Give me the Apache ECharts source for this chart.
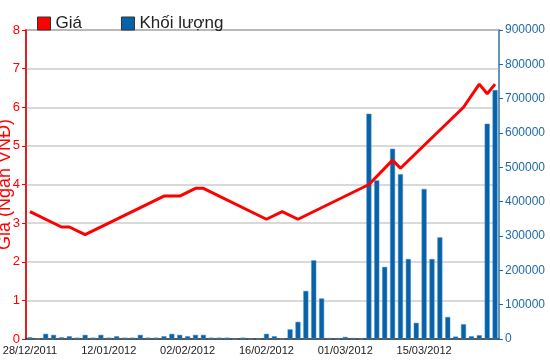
<!DOCTYPE html>
<html>
<head>
<meta charset="utf-8">
<script src="https://cdn.jsdelivr.net/npm/echarts@6/dist/echarts.min.js"></script>
<style>html,body{margin:0;padding:0;background:#fff}#c{width:550px;height:364px}</style>
</head>
<body>
<div id="c"></div>
<script>
var dates = ["28/12/2011","29/12/2011","30/12/2011","03/01/2012","04/01/2012","05/01/2012","06/01/2012","09/01/2012","10/01/2012","11/01/2012",
"12/01/2012","13/01/2012","16/01/2012","17/01/2012","18/01/2012","19/01/2012","20/01/2012","30/01/2012","31/01/2012","01/02/2012",
"02/02/2012","03/02/2012","06/02/2012","07/02/2012","08/02/2012","09/02/2012","10/02/2012","13/02/2012","14/02/2012","15/02/2012",
"16/02/2012","17/02/2012","20/02/2012","21/02/2012","22/02/2012","23/02/2012","24/02/2012","27/02/2012","28/02/2012","29/02/2012",
"01/03/2012","02/03/2012","05/03/2012","06/03/2012","07/03/2012","08/03/2012","09/03/2012","12/03/2012","13/03/2012","14/03/2012",
"15/03/2012","16/03/2012","19/03/2012","20/03/2012","21/03/2012","22/03/2012","23/03/2012","26/03/2012","27/03/2012","28/03/2012"];

var price = [3.3,null,null,null,2.9,2.9,null,2.7,null,null,
null,null,null,null,null,null,null,3.7,null,3.7,
null,3.9,3.9,null,null,null,null,null,null,null,
3.1,null,3.3,null,3.1,null,null,null,null,null,
null,null,null,4.0,null,null,4.63,4.42,null,null,
null,null,null,null,null,6.0,null,6.6,6.35,6.6];

var volume = [5000,0,15000,12000,5000,8000,4000,12000,4000,12000,
4000,8000,4000,4000,12000,4000,4000,8000,15000,12000,
8000,12000,12000,4000,4000,4000,0,4000,0,0,
15000,8000,0,28000,50000,140000,229000,118000,3000,0,
6000,3000,0,656000,462000,210000,554000,480000,233000,47000,
437000,233000,296000,64000,7000,43000,8000,11000,627000,725000];

var priceTicks = [0,1,2,3,4,5,6,7,8];
var volumeTicks = [0,100000,200000,300000,400000,500000,600000,700000,800000,900000];

var chart = echarts.init(document.getElementById('c'), null, {renderer:'canvas'});
var font = 'Liberation Sans, Arial, sans-serif';
chart.setOption({
  animation:false,
  textStyle:{fontFamily:font},
  legend:{
    left:32, top:10, itemWidth:13, itemHeight:13, itemGap:39,
    textStyle:{fontSize:17, color:'#222', fontFamily:font},
    data:[
      {name:'Giá', icon:'rect', itemStyle:{color:'#ff0000', borderColor:'#333', borderWidth:1}},
      {name:'Khối lượng', icon:'rect', itemStyle:{color:'#0862a8', borderColor:'#333', borderWidth:1}}
    ]
  },
  grid:{left:26, right:51, top:30, bottom:25, containLabel:false, outerBoundsMode:'none',
        show:true, borderColor:'#555', borderWidth:1.5},
  xAxis:{
    type:'category', data:dates, boundaryGap:true,
    axisLine:{lineStyle:{color:'#333', width:1.5}},
    axisTick:{interval:9, alignWithLabel:true, length:4, lineStyle:{color:'#333'}},
    axisLabel:{interval:9, fontSize:11, color:'#222', margin:6, fontFamily:font, hideOverlap:false}
  },
  yAxis:[
    {
      type:'value', min:priceTicks[0], max:priceTicks[priceTicks.length-1], interval:1,
      name:'Giá (Ngàn VNĐ)', nameLocation:'middle', nameRotate:90, nameGap:12, nameMoveOverlap:false,
      nameTextStyle:{color:'#ff0000', fontSize:18, fontFamily:font},
      axisLine:{show:true, lineStyle:{color:'#ff0000', width:1.5}},
      axisTick:{show:true, length:4, lineStyle:{color:'#ff0000'}},
      axisLabel:{color:'#ff0000', fontSize:13, margin:6, fontFamily:font},
      splitLine:{show:true, lineStyle:{color:'#cdcdcd', width:1.5}}
    },
    {
      type:'value', min:volumeTicks[0], max:volumeTicks[volumeTicks.length-1], interval:100000,
      position:'right',
      axisLine:{show:true, lineStyle:{color:'#5f9cc9', width:1.5}},
      axisTick:{show:true, length:4, lineStyle:{color:'#1f6aa5'}},
      axisLabel:{color:'#1f6aa5', fontSize:12, margin:6, fontFamily:font,
                 formatter:function(v){return String(v);}},
      splitLine:{show:false}
    }
  ],
  series:[
    {
      name:'Khối lượng', type:'bar', yAxisIndex:1, data:volume, barWidth:5,
      itemStyle:{color:'#0862a8', borderColor:'#3f8bd0', borderWidth:0.5}
    },
    {
      name:'Giá', type:'line', yAxisIndex:0, data:price, connectNulls:true,
      symbol:'none', lineStyle:{color:'#ff0000', width:3}, itemStyle:{color:'#ff0000'}, z:5
    }
  ]
});
</script>
</body>
</html>
